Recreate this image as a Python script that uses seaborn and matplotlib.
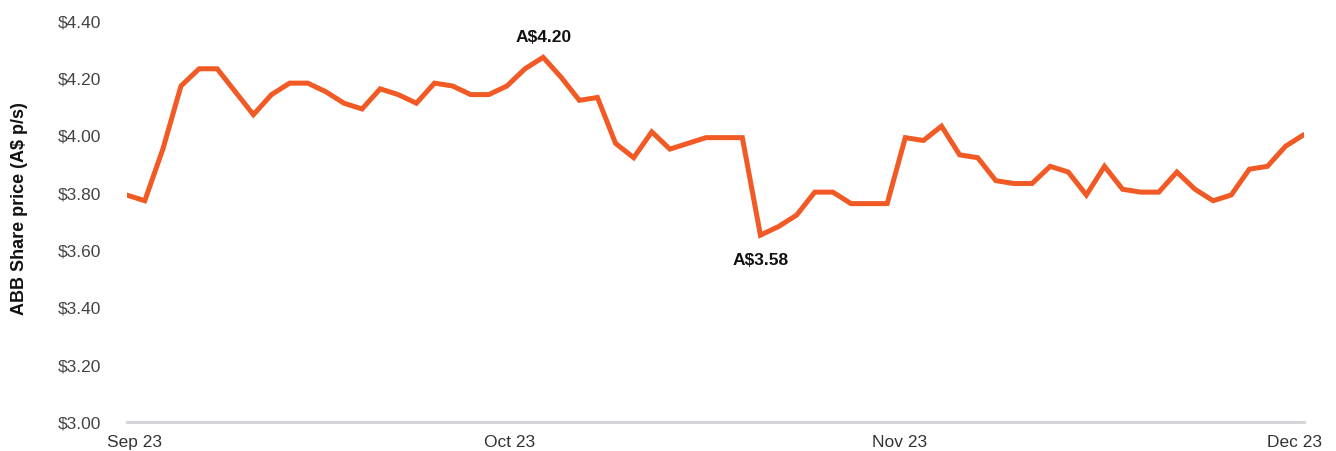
import numpy as np
import pandas as pd
import seaborn as sns
import matplotlib.pyplot as plt
from matplotlib.ticker import FuncFormatter

# ABB daily share price, Sep 23 - Dec 23 (A$)
price = [
    3.79, 3.77, 3.95, 4.17, 4.23, 4.23, 4.15, 4.07, 4.14, 4.18,
    4.18, 4.15, 4.11, 4.09, 4.16, 4.14, 4.11, 4.18, 4.17, 4.14,
    4.14, 4.17, 4.23, 4.27, 4.20, 4.12, 4.13, 3.97, 3.92, 4.01,
    3.95, 3.97, 3.99, 3.99, 3.99, 3.65, 3.68, 3.72, 3.80, 3.80,
    3.76, 3.76, 3.76, 3.99, 3.98, 4.03, 3.93, 3.92, 3.84, 3.83,
    3.83, 3.89, 3.87, 3.79, 3.89, 3.81, 3.80, 3.80, 3.87, 3.81,
    3.77, 3.79, 3.88, 3.89, 3.96, 4.00,
]
month_labels = ["Sep 23", "Oct 23", "Nov 23", "Dec 23"]
high_label = "A$4.20"
low_label = "A$3.58"

df = pd.DataFrame({"day": np.arange(len(price)), "price": price})

sns.set_style("white")
plt.rcParams["font.family"] = ["Liberation Sans", "DejaVu Sans"]

fig = plt.figure(figsize=(13.36, 4.52), dpi=100)
ax = fig.add_axes([0.0948, 0.0650, 0.8810, 0.8885])

sns.lineplot(data=df, x="day", y="price", ax=ax, color="#F15A24",
             linewidth=3.6, solid_joinstyle="miter")

ax.set_xlim(0, len(price) - 1)
ax.set_ylim(3.0, 4.4)
ax.set_yticks(np.arange(3.0, 4.41, 0.2))
ax.yaxis.set_major_formatter(FuncFormatter(lambda v, p: f"${v:.2f}"))

n = len(price) - 1
ax.set_xticks([0.45, n * 0.325, n * 0.657, n - 0.5])
ax.set_xticklabels(month_labels)

ax.tick_params(axis="y", length=0, pad=18, labelsize=12.5, labelcolor="#444444")
ax.tick_params(axis="x", length=0, pad=9, labelsize=12.5, labelcolor="#333333")

for s in ["top", "right", "left"]:
    ax.spines[s].set_visible(False)
ax.spines["bottom"].set_color("#d0d3d6")
ax.spines["bottom"].set_linewidth(2)

ax.set_xlabel("")
ax.set_ylabel("ABB Share price (A$ p/s)", fontsize=13, fontweight="bold",
              color="#111111")
ax.yaxis.set_label_coords(-0.0838, 0.532)

# annotate high and low
hi = int(np.argmax(price))
lo = int(np.argmin(price))
ax.annotate(high_label, (hi, price[hi]), xytext=(0, 11.5), textcoords="offset points",
            ha="center", va="baseline", fontsize=12.5, fontweight="bold", color="#111111")
ax.annotate(low_label, (lo, price[lo]), xytext=(0, -20.5), textcoords="offset points",
            ha="center", va="baseline", fontsize=12.5, fontweight="bold", color="#111111")

plt.savefig("out.png", dpi=100)
plt.close()
